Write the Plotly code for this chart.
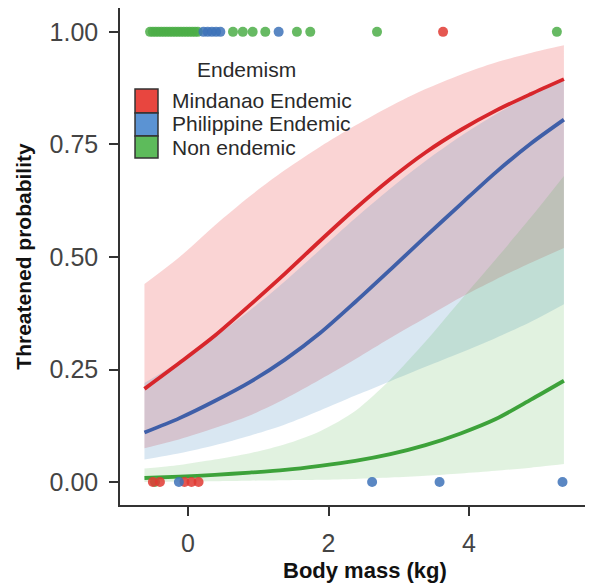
import plotly.graph_objects as go

# ---- data ----
groups = ["Mindanao Endemic", "Philippine Endemic", "Non endemic"]

body_mass = [-0.62, -0.12, 0.38, 0.88, 1.38, 1.88, 2.38, 2.88, 3.38, 3.88, 4.38, 4.88, 5.35]

red_fit = [0.207, 0.265, 0.325, 0.393, 0.463, 0.536, 0.607, 0.673, 0.732, 0.782, 0.825, 0.862, 0.895]
red_hi = [0.44, 0.50, 0.57, 0.635, 0.693, 0.745, 0.792, 0.835, 0.873, 0.905, 0.932, 0.953, 0.97]
red_lo = [0.075, 0.095, 0.12, 0.148, 0.185, 0.228, 0.273, 0.32, 0.365, 0.41, 0.45, 0.487, 0.52]

blue_fit = [0.11, 0.142, 0.18, 0.222, 0.272, 0.331, 0.40, 0.472, 0.545, 0.617, 0.688, 0.752, 0.805]
blue_hi = [0.22, 0.268, 0.322, 0.381, 0.446, 0.516, 0.586, 0.652, 0.713, 0.768, 0.817, 0.86, 0.895]
blue_lo = [0.05, 0.064, 0.082, 0.103, 0.128, 0.159, 0.192, 0.224, 0.256, 0.287, 0.32, 0.356, 0.395]

green_fit = [0.009, 0.012, 0.016, 0.021, 0.027, 0.036, 0.047, 0.062, 0.082, 0.108, 0.14, 0.183, 0.225]
green_hi = [0.03, 0.038, 0.05, 0.064, 0.084, 0.113, 0.158, 0.228, 0.312, 0.404, 0.495, 0.588, 0.68]
green_lo = [0.0, 0.001, 0.002, 0.003, 0.004, 0.005, 0.007, 0.01, 0.014, 0.019, 0.025, 0.032, 0.04]

# observed species (threatened = 1, not threatened = 0)
top_green_x = [-0.54, -0.5, -0.46, -0.42, -0.38, -0.34, -0.3, -0.26, -0.22, -0.18, -0.14, -0.1,
               -0.06, -0.02, 0.02, 0.06, 0.1, 0.14, 0.64, 0.78, 0.92, 1.1, 1.55, 1.74, 2.69, 5.25]
top_blue_x = [0.22, 0.28, 0.34, 0.4, 0.46, 1.29]
top_red_x = [3.63]
bot_red_x = [-0.5, -0.4, -0.05, 0.05, 0.15]
bot_green_x = [-0.47]
bot_blue_x = [-0.13, 2.62, 3.58, 5.33]

y_ticks = [0, 0.25, 0.5, 0.75, 1.0]
y_ticktext = ["0.00", "0.25", "0.50", "0.75", "1.00"]
x_ticks = [0, 2, 4]

# ---- styling ----
fills = ["rgba(228,26,28,0.19)", "rgba(55,126,184,0.19)", "rgba(77,175,74,0.17)"]
lines = ["#d7262b", "#3f5fa8", "#3da23a"]
pts = ["#e03a33", "#3d72b8", "#4cae48"]
keys = ["#e8463f", "#5b93d3", "#5dbb5b"]
FONT = "Liberation Sans, Arial, Helvetica, sans-serif"

fig = go.Figure()

for lo, hi, fc in [(red_lo, red_hi, fills[0]), (blue_lo, blue_hi, fills[1]), (green_lo, green_hi, fills[2])]:
    fig.add_trace(go.Scatter(x=body_mass, y=lo, mode="lines",
                             line=dict(width=0, shape="spline", smoothing=0.8),
                             hoverinfo="skip", showlegend=False))
    fig.add_trace(go.Scatter(x=body_mass, y=hi, mode="lines", fill="tonexty", fillcolor=fc,
                             line=dict(width=0, shape="spline", smoothing=0.8),
                             hoverinfo="skip", showlegend=False))

for fit, lc in [(red_fit, lines[0]), (blue_fit, lines[1]), (green_fit, lines[2])]:
    fig.add_trace(go.Scatter(x=body_mass, y=fit, mode="lines",
                             line=dict(color=lc, width=3.8, shape="spline", smoothing=0.8),
                             showlegend=False))

for xs, yv, c in [(top_green_x, 1, pts[2]), (top_blue_x, 1, pts[1]), (top_red_x, 1, pts[0]),
                  (bot_green_x, 0, pts[2]), (bot_red_x, 0, pts[0]), (bot_blue_x, 0, pts[1])]:
    fig.add_trace(go.Scatter(x=xs, y=[yv] * len(xs), mode="markers",
                             marker=dict(color=c, size=10, opacity=0.85, line=dict(width=0)),
                             showlegend=False))

# ---- manual legend (ggplot style) ----
shapes = []
annotations = []
key_y = [(0.7887, 0.837), (0.7425, 0.7887), (0.6982, 0.7425)]
text_y = [0.8129, 0.7666, 0.7203]
for i, g in enumerate(groups):
    shapes.append(dict(type="rect", xref="paper", yref="paper",
                       x0=0.0323, x1=0.0817, y0=key_y[i][0], y1=key_y[i][1],
                       fillcolor=keys[i], line=dict(color="#333333", width=1.5), layer="above"))
    annotations.append(dict(text=g, xref="paper", yref="paper", x=0.1075, y=text_y[i],
                            xanchor="left", yanchor="middle", showarrow=False,
                            font=dict(family=FONT, size=21, color="#2a2a2a")))
annotations.append(dict(text="Endemism", xref="paper", yref="paper", x=0.271, y=0.8753,
                        xanchor="center", yanchor="middle", showarrow=False,
                        font=dict(family=FONT, size=21, color="#2a2a2a")))
# x-axis title
annotations.append(dict(text="<b>Body mass (kg)</b>", xref="paper", yref="paper", x=0.527, y=-0.131,
                        xanchor="center", yanchor="middle", showarrow=False,
                        font=dict(family=FONT, size=22, color="#111")))

fig.update_layout(
    width=592, height=583,
    margin=dict(l=120, r=7, t=8, b=78, autoexpand=False),
    paper_bgcolor="white", plot_bgcolor="white",
    font=dict(family=FONT),
    shapes=shapes, annotations=annotations,
    xaxis=dict(range=[-0.968, 5.65], tickvals=x_ticks, ticks="outside", ticklen=9,
               tickwidth=1.5, tickcolor="#333", showline=True, linecolor="#333", linewidth=1.5,
               showgrid=False, zeroline=False, ticklabelstandoff=6, automargin=False,
               tickfont=dict(size=25, color="#444", family=FONT)),
    yaxis=dict(range=[-0.051, 1.053], tickvals=y_ticks, ticktext=y_ticktext, ticks="outside",
               ticklen=9, tickwidth=1.5, tickcolor="#333", showline=True, linecolor="#333",
               linewidth=1.5, showgrid=False, zeroline=False, ticklabelstandoff=6, automargin=False,
               tickfont=dict(size=25, color="#444", family=FONT),
               title=dict(text="<b>Threatened probability</b>", font=dict(size=21, color="#111", family=FONT),
                          standoff=12)),
)

fig.write_html("out.html")
